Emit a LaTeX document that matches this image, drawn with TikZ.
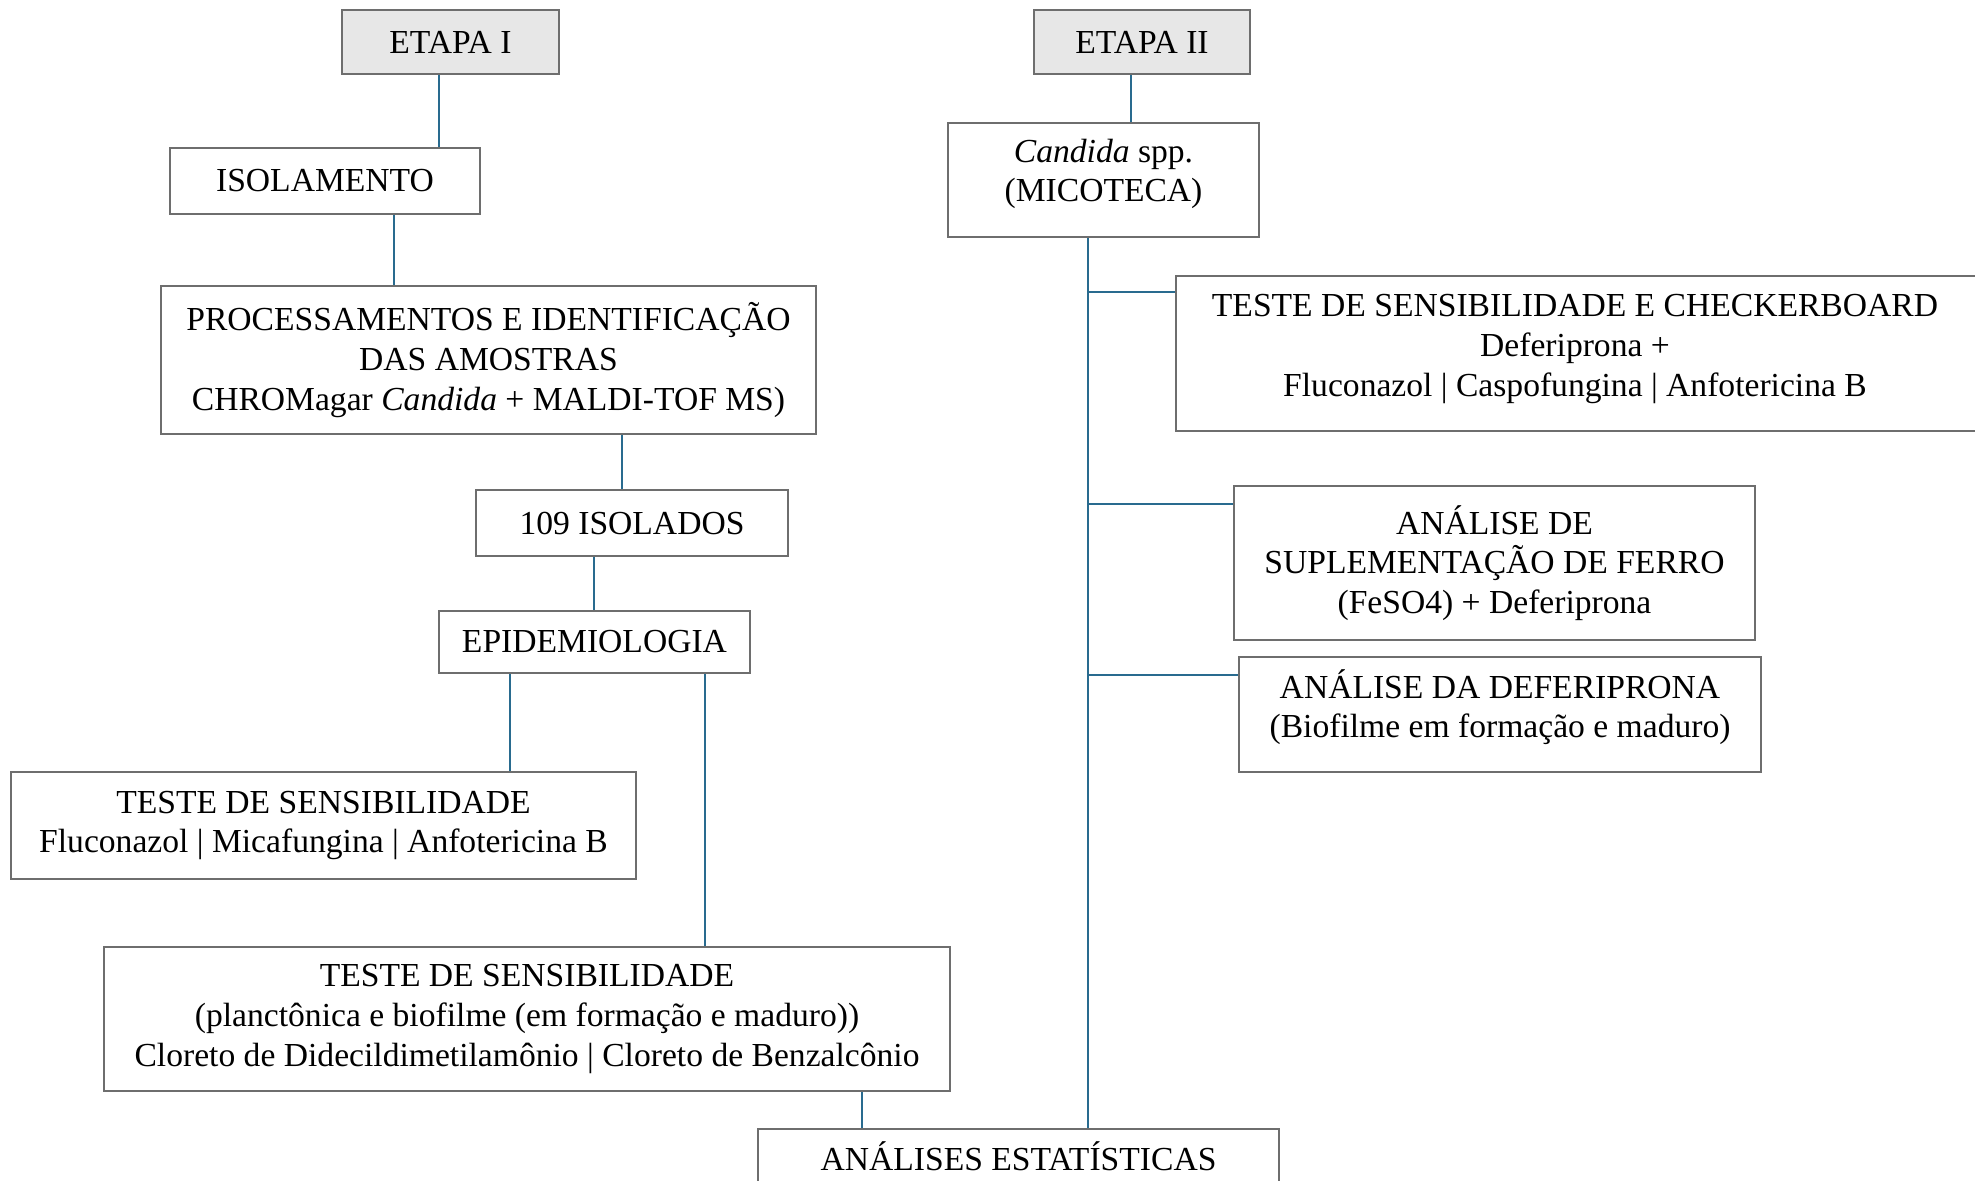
\documentclass[tikz,border=0pt]{standalone}
\usepackage{fontspec}
\setmainfont{Liberation Serif}
\definecolor{linec}{RGB}{41,107,143}
\definecolor{boxc}{RGB}{110,110,110}
\definecolor{etfill}{RGB}{231,231,231}
\begin{document}
\begin{tikzpicture}[x=0.5pt,y=-0.5pt,
  box/.style={draw=boxc, line width=1pt, rectangle, inner sep=0pt, align=center, font=\fontsize{16.8}{19.8}\selectfont},
  txt/.style={inner sep=0pt, align=center, font=\fontsize{16.8}{19.8}\selectfont},
  conn/.style={draw=linec, line width=1pt},
]
\useasboundingbox (0,0) rectangle (1975,1181);
\clip (0,0) rectangle (1975,1181);

% boxes
\node[box, fill=etfill, minimum width=108.5pt, minimum height=32pt] (et1) at (450.5,42) {ETAPA I};
\node[box, fill=etfill, minimum width=108pt, minimum height=32pt] (et2) at (1142,42) {ETAPA II};
\node[box, minimum width=155pt, minimum height=33pt] (isol) at (325,181) {ISOLAMENTO};
\node[box, minimum width=155.5pt, minimum height=57pt] (cand) at (1103.5,180) {};
\node[txt] (candt) at (1103.5,174) {\textit{Candida} spp.\\(MICOTECA)};
\node[box, minimum width=327.5pt, minimum height=74pt] (proc) at (488.5,360)
  {PROCESSAMENTOS E IDENTIFICAÇÃO\\DAS AMOSTRAS\\CHROMagar \textit{Candida} + MALDI-TOF MS)};
\node[box, minimum width=400.5pt, minimum height=77.5pt] (check) at (1576.5,353.5) {};
\node[txt] (checkt) at (1575,349)
  {TESTE DE SENSIBILIDADE E CHECKERBOARD\\Deferiprona +\\Fluconazol | Caspofungina | Anfotericina B};
\node[box, minimum width=156pt, minimum height=33pt] (iso109) at (632,523) {109 ISOLADOS};
\node[box, minimum width=155.5pt, minimum height=31pt] (epi) at (594.5,642) {EPIDEMIOLOGIA};
\node[box, minimum width=260.5pt, minimum height=77pt] (suple) at (1494.5,563)
  {ANÁLISE DE\\SUPLEMENTAÇÃO DE FERRO\\(FeSO4) + Deferiprona};
\node[box, minimum width=261pt, minimum height=57.5pt] (defer) at (1500,714.5) {};
\node[txt] (defert) at (1500,707)
  {ANÁLISE DA DEFERIPRONA\\(Biofilme em formação e maduro)};
\node[box, minimum width=312.5pt, minimum height=53.5pt] (sens1) at (323.5,825.5)
  {TESTE DE SENSIBILIDADE\\Fluconazol | Micafungina | Anfotericina B};
\node[box, minimum width=423pt, minimum height=72pt] (sens2) at (527,1019)
  {TESTE DE SENSIBILIDADE\\(planctônica e biofilme (em formação e maduro))\\Cloreto de Didecildimetilamônio | Cloreto de Benzalcônio};
\node[box, minimum width=260.5pt, minimum height=27pt] (stats) at (1018.5,1156) {ANÁLISES ESTATÍSTICAS};

% connectors
\draw[conn] (et1.south) ++(-11.5,0) coordinate (p1) -- (p1 |- isol.north);
\draw[conn] (isol.south) ++(69,0) coordinate (p2) -- (p2 |- proc.north);
\draw[conn] (proc.south) ++(133.5,0) coordinate (p3) -- (p3 |- iso109.north);
\draw[conn] (iso109.south) ++(-38,0) coordinate (p4) -- (p4 |- epi.north);
\draw[conn] (epi.south) ++(-84.5,0) coordinate (p5) -- (p5 |- sens1.north);
\draw[conn] (epi.south) ++(110.5,0) coordinate (p6) -- (p6 |- sens2.north);
\draw[conn] (sens2.south) ++(335,0) coordinate (p7) -- (p7 |- stats.north);
\draw[conn] (et2.south) ++(-11,0) coordinate (p8) -- (p8 |- cand.north);
\draw[conn] (cand.south) ++(-15.5,0) coordinate (tr) -- (tr |- stats.north);
\path (check.west) ++(0,-61.5) coordinate (b1);
\path (suple.west) ++(0,-59) coordinate (b2);
\path (defer.west) ++(0,-39.5) coordinate (b3);
\draw[conn] (tr |- b1) -- (b1);
\draw[conn] (tr |- b2) -- (b2);
\draw[conn] (tr |- b3) -- (b3);
\end{tikzpicture}
\end{document}
